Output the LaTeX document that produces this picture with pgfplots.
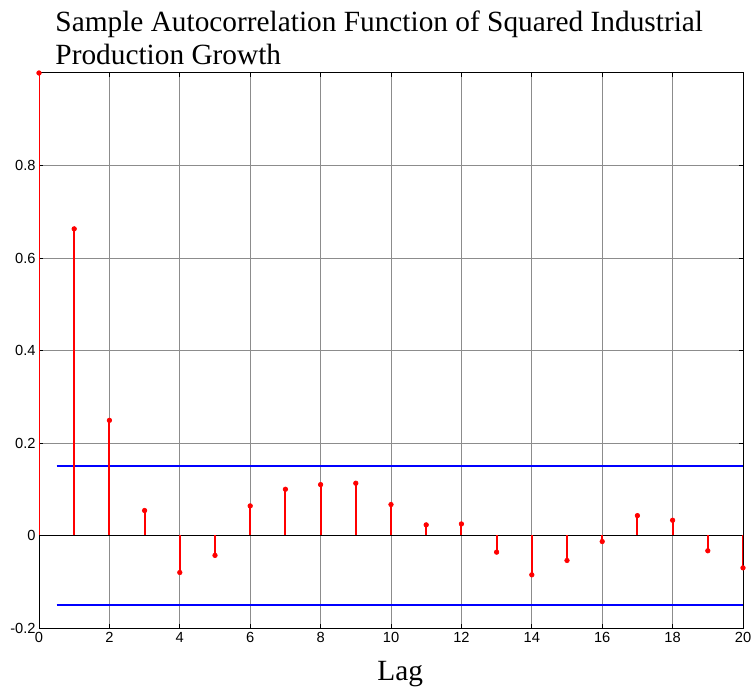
\documentclass[border=0pt]{standalone}
\usepackage{pgfplots}
\pgfplotsset{compat=1.18}
\usepackage{fontspec}
\setmainfont{Liberation Serif}
\newfontfamily\arial{Liberation Sans}
\definecolor{stemred}{RGB}{255,0,0}
\definecolor{bandblue}{RGB}{0,0,255}
\begin{document}
\begin{tikzpicture}
\fill[white] (-29.25pt,-45pt) rectangle (534.75pt,471pt);
\path[use as bounding box] (-29.25pt,-45pt) rectangle (534.75pt,471pt);
\begin{axis}[
  at={(0pt,0pt)}, anchor=south west,
  scale only axis, width=528pt, height=416.25pt,
  xmin=0, xmax=20, ymin=-0.2, ymax=1,
  xtick={0,2,...,20},
  ytick={-0.2,0,0.2,0.4,0.6,0.8},
  yticklabels={-0.2,0,0.2,0.4,0.6,0.8},
  /pgf/number format/assume math mode=true,
  ticklabel style={font=\arial\fontsize{11}{13}\selectfont},
  yticklabel style={xshift=1pt},
  grid=major,
  major grid style={black!45, line width=0.5pt},
  axis line style={black, line width=0.75pt},
  tick style={black, line width=0.6pt},
  major tick length=3pt,
  tick align=inside,
  clip mode=individual,
  title={Sample Autocorrelation Function of Squared Industrial\\Production Growth},
  title style={at={(rel axis cs:0.023,1)}, anchor=south west, align=left,
    font=\fontsize{22}{25}\selectfont, inner sep=0pt},
  xlabel={Lag},
  xlabel style={at={(rel axis cs:0.513,0)}, anchor=north, inner sep=0pt,
    yshift=-25pt, font=\fontsize{22}{26}\selectfont},
]
\addplot[draw=black, line width=0.75pt] coordinates {(0,0) (20,0)};
\addplot[color=bandblue, line width=1.4pt] coordinates {(0.5,0.151) (20,0.151)};
\addplot[color=bandblue, line width=1.4pt] coordinates {(0.5,-0.151) (20,-0.151)};
\addplot[color=stemred, line width=1.4pt, ycomb, mark=*, mark size=1.7pt, mark options={fill=stemred, draw=stemred, line width=0.5pt}] coordinates {
(0,1.0) (1,0.663) (2,0.249) (3,0.054) (4,-0.080) (5,-0.043) (6,0.064)
(7,0.100) (8,0.110) (9,0.113) (10,0.067) (11,0.023) (12,0.025)
(13,-0.036) (14,-0.085) (15,-0.054) (16,-0.013) (17,0.043) (18,0.033)
(19,-0.033) (20,-0.070)};
\end{axis}
\end{tikzpicture}
\end{document}
